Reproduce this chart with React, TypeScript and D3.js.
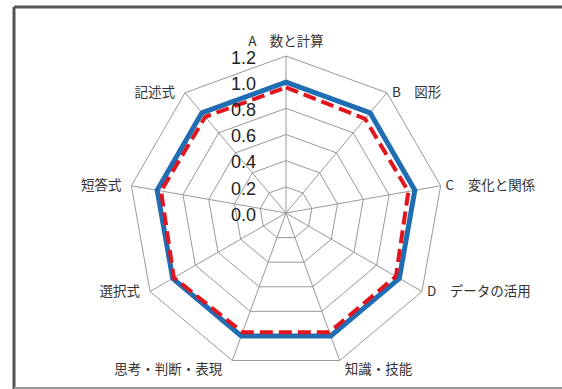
import React from "react";
import { scaleLinear, lineRadial, curveLinearClosed, range } from "d3";

// axes, clockwise from the top
const categories = [
  "A\u3000数と計算",
  "B\u3000図形",
  "C\u3000変化と関係",
  "D\u3000データの活用",
  "知識・技能",
  "思考・判断・表現",
  "選択式",
  "短答式",
  "記述式",
];
const baseValues = [1.0, 1.0, 1.0, 1.0, 1.0, 1.0, 1.0, 1.0, 1.0];
const schoolValues = [0.96, 0.94, 0.95, 0.97, 0.97, 0.97, 0.99, 0.97, 0.96];
const ticks = [0, 0.2, 0.4, 0.6, 0.8, 1.0, 1.2];

const W = 562;
const H = 389;
const cx = 286;
const cy = 213;
const R = 157;

const App = () => {
  const r = scaleLinear().domain([0, 1.2]).range([0, R]);
  const n = categories.length;
  const angle = (i: number) => (i * 2 * Math.PI) / n;

  const radar = lineRadial<number>()
    .angle((d, i) => angle(i))
    .radius((d) => r(d))
    .curve(curveLinearClosed);

  const pt = (i: number, rad: number) => [
    Math.sin(angle(i)) * rad,
    -Math.cos(angle(i)) * rad,
  ];

  return (
    <svg
      width={W}
      height={H}
      style={{ position: "absolute", left: 0, top: 0, background: "#fff" }}
    >
      {/* frame */}
      <line x1={14} y1={7} x2={W} y2={7} stroke="#555" strokeWidth={3} />
      <line x1={14} y1={7} x2={14} y2={H} stroke="#555" strokeWidth={3} />
      <line x1={14} y1={H - 1} x2={W} y2={H - 1} stroke="#999" strokeWidth={2} />

      <g transform={`translate(${cx},${cy})`}>
        {/* rings */}
        {ticks.slice(1).map((t) => (
          <path
            key={t}
            d={radar(range(n).map(() => t)) || ""}
            fill="none"
            stroke="#999"
            strokeWidth={1}
          />
        ))}
        {/* spokes */}
        {range(n).map((i) => {
          const [x, y] = pt(i, R);
          return (
            <line key={i} x1={0} y1={0} x2={x} y2={y} stroke="#999" strokeWidth={1} />
          );
        })}

        {/* series */}
        <path
          d={radar(baseValues) || ""}
          fill="none"
          stroke="#1f6db3"
          strokeWidth={5}
          strokeLinejoin="miter"
        />
        <path
          d={radar(schoolValues) || ""}
          fill="none"
          stroke="#e2141e"
          strokeWidth={4}
          strokeDasharray="13 6"
        />

        {/* tick labels */}
        {ticks.map((t) => (
          <text
            key={t}
            x={-30}
            y={-r(t) + 3}
            textAnchor="end"
            dominantBaseline="middle"
            fontFamily="'Liberation Sans', Arial, sans-serif"
            fontSize={18}
            fill="#222"
          >
            {t.toFixed(1)}
          </text>
        ))}

        {/* category labels */}
        {categories.map((c, i) => {
          const s = Math.sin(angle(i));
          const co = Math.cos(angle(i));
          const [x, y] = pt(i, R);
          const anchor = s > 0.1 ? "start" : s < -0.1 ? "end" : "middle";
          const dx = s > 0.1 ? 5 : s < -0.1 ? -10 : 0;
          const dy = Math.abs(co) > 0.9 ? (co > 0 ? -14 : 10) : 1;
          return (
            <text
              key={c}
              x={x + dx}
              y={y + dy}
              textAnchor={anchor}
              dominantBaseline="middle"
              fontFamily="'Noto Sans CJK JP', sans-serif"
              fontSize={13.5}
              fill="#333"
            >
              {c}
            </text>
          );
        })}
      </g>
    </svg>
  );
};

export default App;
